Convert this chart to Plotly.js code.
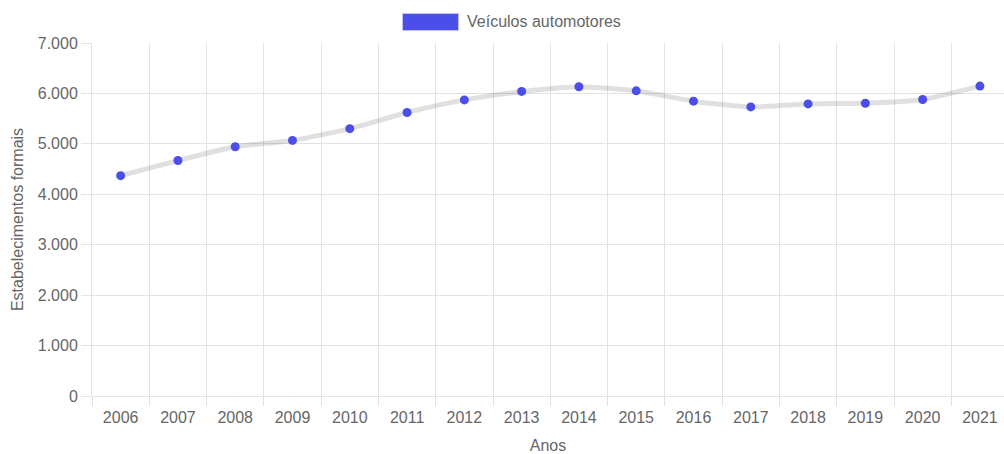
<!DOCTYPE html>
<html>
<head>
<meta charset="utf-8">
<script src="https://cdn.plot.ly/plotly-3.0.1.min.js"></script>
<style>
html,body{margin:0;padding:0;overflow:hidden;background:#fff;}
#chart{width:1004px;height:454px;}
</style>
</head>
<body>
<div id="chart"></div>
<script>
const years = ["2006","2007","2008","2009","2010","2011","2012","2013","2014","2015","2016","2017","2018","2019","2020","2021"];
const veiculos = [4369, 4669, 4942, 5068, 5301, 5621, 5872, 6040, 6132, 6052, 5846, 5733, 5792, 5806, 5880, 6146];
const seriesName = "Veículos automotores";
const yTicks = [0, 1000, 2000, 3000, 4000, 5000, 6000, 7000];

const gridColor = "#e3e3e3";
const textColor = "#666666";
const fontFam = "Liberation Sans, Arial, Helvetica, sans-serif";
const fs = 16;

const trace = {
  x: years,
  y: veiculos,
  type: "scatter",
  mode: "lines+markers",
  name: seriesName,
  line: {color: "rgba(0,0,0,0.12)", width: 5, shape: "spline", smoothing: 0.5},
  marker: {color: "#4b4fe8", size: 9, line: {width: 0}},
  showlegend: false,
  hoverinfo: "x+y"
};

const layout = {
  width: 1004,
  height: 454,
  margin: {l: 92, r: 0, t: 43, b: 58},
  paper_bgcolor: "#ffffff",
  plot_bgcolor: "#ffffff",
  separators: ",.",
  font: {family: fontFam, size: fs, color: textColor},
  showlegend: false,
  xaxis: {
    type: "category",
    range: [-0.5, 15.42],
    tickson: "boundaries",
    showgrid: true,
    gridcolor: gridColor,
    gridwidth: 1,
    ticks: "outside",
    ticklen: 9,
    tickcolor: gridColor,
    ticklabelstandoff: 10,
    showline: false,
    zeroline: false,
    tickfont: {family: fontFam, size: fs, color: textColor},
    title: {text: "Anos", font: {family: fontFam, size: fs, color: textColor}, standoff: 14}
  },
  yaxis: {
    range: [0, 7000],
    tickvals: yTicks,
    tickformat: ",d",
    showgrid: true,
    gridcolor: gridColor,
    gridwidth: 1,
    ticks: "outside",
    ticklen: 10,
    tickcolor: gridColor,
    showline: true,
    linecolor: gridColor,
    zeroline: true,
    zerolinecolor: gridColor,
    zerolinewidth: 1,
    tickfont: {family: fontFam, size: fs, color: textColor},
    title: {text: "Estabelecimentos formais", font: {family: fontFam, size: fs, color: textColor}, standoff: 10}
  },
  shapes: [{
    type: "rect", xref: "paper", yref: "paper",
    x0: (403 - 92) / 912, x1: (458 - 92) / 912,
    y0: 1 + (43 - 30) / 353, y1: 1 + (43 - 14) / 353,
    fillcolor: "#4b4fe8",
    line: {color: "rgba(75,79,232,0.35)", width: 2}
  }],
  annotations: [{
    xref: "paper", yref: "paper",
    x: (465 - 92) / 912, y: 1 + (43 - 22) / 353,
    xanchor: "left", yanchor: "middle",
    text: seriesName, showarrow: false,
    font: {family: fontFam, size: fs, color: textColor}
  }]
};

Plotly.newPlot("chart", [trace], layout, {displayModeBar: false, staticPlot: true});
</script>
</body>
</html>
